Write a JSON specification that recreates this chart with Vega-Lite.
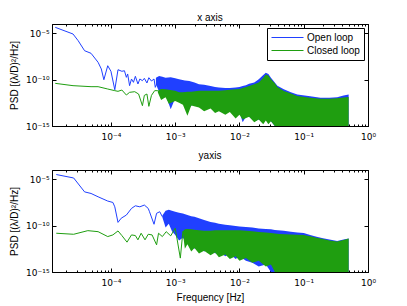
{
  "$schema": "https://vega.github.io/schema/vega-lite/v6.json",
  "background": "white",
  "padding": {"left": 9, "top": 12, "right": 5, "bottom": 2},
  "config": {
    "font": "Liberation Sans",
    "view": {"stroke": "black", "strokeWidth": 1},
    "axis": {"grid": false, "domainColor": "black", "domainWidth": 1, "tickColor": "black", "tickWidth": 1, "labelColor": "black", "titleColor": "black", "labelFont": "DejaVu Sans", "titleFont": "Liberation Sans", "labelFontSize": 9, "titleFontSize": 10, "titleFontWeight": "normal", "labelFlush": false, "labelOverlap": false},
    "title": {"fontSize": 10, "fontWeight": "normal", "font": "Liberation Sans", "offset": 1, "anchor": "middle", "color": "black"},
    "legend": {"strokeColor": "black", "fillColor": "white", "padding": 4, "cornerRadius": 0, "symbolType": "M-1,0H5.4", "symbolSize": 100, "symbolStrokeWidth": 1, "labelFont": "Liberation Sans", "labelFontSize": 10, "labelColor": "black", "labelOffset": 25, "rowPadding": 2},
    "concat": {"spacing": 6}
  },
  "datasets": {
    "xOL": [
      {"series": "Open loop", "freq": 1.36e-5, "psd": 4.37e-5},
      {"series": "Open loop", "freq": 2.57e-5, "psd": 8.32e-6},
      {"series": "Open loop", "freq": 3.09e-5, "psd": 1.585e-6},
      {"series": "Open loop", "freq": 3.89e-5, "psd": 1.318e-7},
      {"series": "Open loop", "freq": 4.90e-5, "psd": 6.92e-8},
      {"series": "Open loop", "freq": 6.31e-5, "psd": 7.41e-9},
      {"series": "Open loop", "freq": 7.08e-5, "psd": 1.41e-9},
      {"series": "Open loop", "freq": 7.76e-5, "psd": 9.77e-11},
      {"series": "Open loop", "freq": 8.91e-5, "psd": 3.16e-9},
      {"series": "Open loop", "freq": 1.0e-4, "psd": 7.94e-10},
      {"series": "Open loop", "freq": 1.148e-4, "psd": 8.13e-12},
      {"series": "Open loop", "freq": 1.288e-4, "psd": 1.175e-9},
      {"series": "Open loop", "freq": 1.479e-4, "psd": 7.94e-10},
      {"series": "Open loop", "freq": 1.622e-4, "psd": 9.12e-10},
      {"series": "Open loop", "freq": 1.738e-4, "psd": 1.778e-10},
      {"series": "Open loop", "freq": 1.820e-4, "psd": 4.07e-10},
      {"series": "Open loop", "freq": 1.950e-4, "psd": 2.24e-11},
      {"series": "Open loop", "freq": 2.089e-4, "psd": 1.175e-10},
      {"series": "Open loop", "freq": 2.239e-4, "psd": 5.13e-11},
      {"series": "Open loop", "freq": 2.399e-4, "psd": 2.29e-10},
      {"series": "Open loop", "freq": 2.63e-4, "psd": 3.39e-11},
      {"series": "Open loop", "freq": 2.818e-4, "psd": 1.175e-10},
      {"series": "Open loop", "freq": 3.09e-4, "psd": 7.76e-11},
      {"series": "Open loop", "freq": 3.31e-4, "psd": 1.38e-10},
      {"series": "Open loop", "freq": 3.63e-4, "psd": 4.37e-11},
      {"series": "Open loop", "freq": 3.89e-4, "psd": 1.62e-10},
      {"series": "Open loop", "freq": 4.27e-4, "psd": 7.08e-11},
      {"series": "Open loop", "freq": 4.68e-4, "psd": 1.175e-10},
      {"series": "Open loop", "freq": 4.90e-4, "psd": 1.48e-11},
      {"series": "Open loop", "freq": 5.37e-4, "psd": 7.76e-11}
    ],
    "xCL": [
      {"series": "Closed loop", "freq": 1.36e-5, "psd": 3.98e-11},
      {"series": "Closed loop", "freq": 2.57e-5, "psd": 2.24e-11},
      {"series": "Closed loop", "freq": 4.90e-5, "psd": 1.738e-11},
      {"series": "Closed loop", "freq": 6.31e-5, "psd": 1.738e-11},
      {"series": "Closed loop", "freq": 8.91e-5, "psd": 9.77e-12},
      {"series": "Closed loop", "freq": 1.148e-4, "psd": 6.46e-12},
      {"series": "Closed loop", "freq": 1.288e-4, "psd": 5.50e-12},
      {"series": "Closed loop", "freq": 1.479e-4, "psd": 7.59e-12},
      {"series": "Closed loop", "freq": 1.738e-4, "psd": 2.19e-12},
      {"series": "Closed loop", "freq": 1.950e-4, "psd": 4.27e-12},
      {"series": "Closed loop", "freq": 2.344e-4, "psd": 5.01e-12},
      {"series": "Closed loop", "freq": 2.692e-4, "psd": 2.82e-12},
      {"series": "Closed loop", "freq": 3.09e-4, "psd": 1.55e-13},
      {"series": "Closed loop", "freq": 3.31e-4, "psd": 2.0e-12},
      {"series": "Closed loop", "freq": 3.63e-4, "psd": 2.82e-12},
      {"series": "Closed loop", "freq": 3.89e-4, "psd": 1.32e-13},
      {"series": "Closed loop", "freq": 4.27e-4, "psd": 2.0e-12},
      {"series": "Closed loop", "freq": 4.79e-4, "psd": 6.46e-12},
      {"series": "Closed loop", "freq": 5.37e-4, "psd": 6.46e-12}
    ],
    "xOB": [
      {"series": "Open loop", "freq": 5.01e-4, "hi": 1.585e-10, "lo": 3.16e-11},
      {"series": "Open loop", "freq": 5.62e-4, "hi": 2.51e-10, "lo": 5.01e-12},
      {"series": "Open loop", "freq": 6.31e-4, "hi": 2.0e-10, "lo": 1e-12},
      {"series": "Open loop", "freq": 7.08e-4, "hi": 1.585e-10, "lo": 2.51e-12},
      {"series": "Open loop", "freq": 8.51e-4, "hi": 1.78e-10, "lo": 6.31e-14},
      {"series": "Open loop", "freq": 1.0e-3, "hi": 1.41e-10, "lo": 1e-12},
      {"series": "Open loop", "freq": 1.148e-3, "hi": 1.12e-10, "lo": 3.98e-13},
      {"series": "Open loop", "freq": 1.413e-3, "hi": 7.94e-11, "lo": 6.31e-13},
      {"series": "Open loop", "freq": 1.660e-3, "hi": 7.08e-11, "lo": 1e-13},
      {"series": "Open loop", "freq": 1.995e-3, "hi": 5.01e-11, "lo": 3.16e-13},
      {"series": "Open loop", "freq": 2.344e-3, "hi": 3.16e-11, "lo": 2.51e-13},
      {"series": "Open loop", "freq": 2.818e-3, "hi": 2.82e-11, "lo": 6.31e-14},
      {"series": "Open loop", "freq": 3.548e-3, "hi": 2.0e-11, "lo": 1.585e-13},
      {"series": "Open loop", "freq": 4.169e-3, "hi": 1.585e-11, "lo": 5.01e-14},
      {"series": "Open loop", "freq": 4.786e-3, "hi": 1.41e-11, "lo": 1e-13},
      {"series": "Open loop", "freq": 6.026e-3, "hi": 1.26e-11, "lo": 3.98e-14},
      {"series": "Open loop", "freq": 7.079e-3, "hi": 1.26e-11, "lo": 6.31e-14},
      {"series": "Open loop", "freq": 8.710e-3, "hi": 1.41e-11, "lo": 1.26e-14},
      {"series": "Open loop", "freq": 1.0e-2, "hi": 1.585e-11, "lo": 3.16e-14},
      {"series": "Open loop", "freq": 1.122e-2, "hi": 2.0e-11, "lo": 2.51e-15},
      {"series": "Open loop", "freq": 1.259e-2, "hi": 2.51e-11, "lo": 1e-14},
      {"series": "Open loop", "freq": 1.413e-2, "hi": 3.55e-11, "lo": 1e-14},
      {"series": "Open loop", "freq": 1.698e-2, "hi": 5.01e-11, "lo": 3.16e-15},
      {"series": "Open loop", "freq": 1.995e-2, "hi": 1.12e-10, "lo": 5.01e-15},
      {"series": "Open loop", "freq": 2.344e-2, "hi": 3.16e-10, "lo": 1e-14},
      {"series": "Open loop", "freq": 2.570e-2, "hi": 5.62e-10, "lo": 1e-14},
      {"series": "Open loop", "freq": 2.818e-2, "hi": 3.98e-10, "lo": 3.16e-15},
      {"series": "Open loop", "freq": 3.090e-2, "hi": 1.585e-10, "lo": 3.16e-15},
      {"series": "Open loop", "freq": 3.548e-2, "hi": 5.01e-11, "lo": 1e-15},
      {"series": "Open loop", "freq": 3.890e-2, "hi": 2.24e-11, "lo": 1e-16},
      {"series": "Open loop", "freq": 4.898e-2, "hi": 8.91e-12, "lo": 1e-16},
      {"series": "Open loop", "freq": 6.310e-2, "hi": 4.47e-12, "lo": 1e-16},
      {"series": "Open loop", "freq": 7.943e-2, "hi": 2.51e-12, "lo": 1e-16},
      {"series": "Open loop", "freq": 0.1259, "hi": 1.585e-12, "lo": 1e-16},
      {"series": "Open loop", "freq": 0.1820, "hi": 1.12e-12, "lo": 1e-16},
      {"series": "Open loop", "freq": 0.2512, "hi": 1.12e-12, "lo": 1e-16},
      {"series": "Open loop", "freq": 0.3311, "hi": 1.26e-12, "lo": 1e-16},
      {"series": "Open loop", "freq": 0.4169, "hi": 2.0e-12, "lo": 1e-16},
      {"series": "Open loop", "freq": 0.5, "hi": 2.51e-12, "lo": 1e-16}
    ],
    "xCB": [
      {"series": "Closed loop", "freq": 5.37e-4, "hi": 6.46e-12, "lo": 3.98e-12},
      {"series": "Closed loop", "freq": 6.03e-4, "hi": 1e-11, "lo": 6.31e-13},
      {"series": "Closed loop", "freq": 7.08e-4, "hi": 8.91e-12, "lo": 1.26e-12},
      {"series": "Closed loop", "freq": 7.94e-4, "hi": 7.94e-12, "lo": 2.51e-13},
      {"series": "Closed loop", "freq": 1.0e-3, "hi": 6.31e-12, "lo": 5.01e-13},
      {"series": "Closed loop", "freq": 1.148e-3, "hi": 4.47e-12, "lo": 3.16e-13},
      {"series": "Closed loop", "freq": 1.318e-3, "hi": 4.47e-12, "lo": 2.0e-13},
      {"series": "Closed loop", "freq": 1.549e-3, "hi": 5.01e-12, "lo": 1.26e-14},
      {"series": "Closed loop", "freq": 1.778e-3, "hi": 5.01e-12, "lo": 1.585e-13},
      {"series": "Closed loop", "freq": 2.344e-3, "hi": 6.31e-12, "lo": 1e-13},
      {"series": "Closed loop", "freq": 2.818e-3, "hi": 6.31e-12, "lo": 3.98e-14},
      {"series": "Closed loop", "freq": 3.548e-3, "hi": 6.31e-12, "lo": 7.94e-14},
      {"series": "Closed loop", "freq": 4.169e-3, "hi": 6.31e-12, "lo": 2.51e-14},
      {"series": "Closed loop", "freq": 4.786e-3, "hi": 6.31e-12, "lo": 3.98e-14},
      {"series": "Closed loop", "freq": 6.026e-3, "hi": 7.08e-12, "lo": 1.585e-14},
      {"series": "Closed loop", "freq": 7.079e-3, "hi": 7.94e-12, "lo": 3.16e-14},
      {"series": "Closed loop", "freq": 8.710e-3, "hi": 8.91e-12, "lo": 6.31e-15},
      {"series": "Closed loop", "freq": 1.0e-2, "hi": 1e-11, "lo": 1.585e-14},
      {"series": "Closed loop", "freq": 1.122e-2, "hi": 1.26e-11, "lo": 5.01e-15},
      {"series": "Closed loop", "freq": 1.413e-2, "hi": 2.0e-11, "lo": 1e-14},
      {"series": "Closed loop", "freq": 1.698e-2, "hi": 3.16e-11, "lo": 2.51e-15},
      {"series": "Closed loop", "freq": 1.995e-2, "hi": 5.01e-11, "lo": 5.01e-15},
      {"series": "Closed loop", "freq": 2.344e-2, "hi": 1.585e-10, "lo": 1.585e-15},
      {"series": "Closed loop", "freq": 2.570e-2, "hi": 3.55e-10, "lo": 3.98e-15},
      {"series": "Closed loop", "freq": 2.818e-2, "hi": 2.82e-10, "lo": 1.585e-15},
      {"series": "Closed loop", "freq": 3.090e-2, "hi": 1.12e-10, "lo": 3.16e-15},
      {"series": "Closed loop", "freq": 3.548e-2, "hi": 3.98e-11, "lo": 1e-15},
      {"series": "Closed loop", "freq": 3.890e-2, "hi": 1.585e-11, "lo": 6.31e-16},
      {"series": "Closed loop", "freq": 4.571e-2, "hi": 7.94e-12, "lo": 1e-16},
      {"series": "Closed loop", "freq": 4.898e-2, "hi": 6.03e-12, "lo": 1e-16},
      {"series": "Closed loop", "freq": 6.310e-2, "hi": 3.16e-12, "lo": 1e-16},
      {"series": "Closed loop", "freq": 7.943e-2, "hi": 1.70e-12, "lo": 1e-16},
      {"series": "Closed loop", "freq": 0.1259, "hi": 1.12e-12, "lo": 1e-16},
      {"series": "Closed loop", "freq": 0.1820, "hi": 8.71e-13, "lo": 1e-16},
      {"series": "Closed loop", "freq": 0.2512, "hi": 8.91e-13, "lo": 1e-16},
      {"series": "Closed loop", "freq": 0.3311, "hi": 1e-12, "lo": 1e-16},
      {"series": "Closed loop", "freq": 0.4169, "hi": 1.20e-12, "lo": 1e-16},
      {"series": "Closed loop", "freq": 0.5, "hi": 1.32e-12, "lo": 1e-16}
    ],
    "yOL": [
      {"series": "Open loop", "freq": 1.41e-5, "psd": 3.24e-5},
      {"series": "Open loop", "freq": 2.63e-5, "psd": 1.38e-5},
      {"series": "Open loop", "freq": 3.89e-5, "psd": 4.37e-7},
      {"series": "Open loop", "freq": 4.90e-5, "psd": 2.95e-7},
      {"series": "Open loop", "freq": 6.31e-5, "psd": 1.29e-7},
      {"series": "Open loop", "freq": 8.91e-5, "psd": 4.47e-8},
      {"series": "Open loop", "freq": 1.072e-4, "psd": 3.16e-8},
      {"series": "Open loop", "freq": 1.148e-4, "psd": 1.07e-8},
      {"series": "Open loop", "freq": 1.288e-4, "psd": 2.24e-10},
      {"series": "Open loop", "freq": 1.445e-4, "psd": 6.31e-10},
      {"series": "Open loop", "freq": 1.738e-4, "psd": 1.38e-9},
      {"series": "Open loop", "freq": 2.089e-4, "psd": 7.24e-9},
      {"series": "Open loop", "freq": 2.399e-4, "psd": 1.38e-8},
      {"series": "Open loop", "freq": 2.818e-4, "psd": 1.07e-8},
      {"series": "Open loop", "freq": 3.311e-4, "psd": 1.66e-8},
      {"series": "Open loop", "freq": 3.802e-4, "psd": 7.24e-9},
      {"series": "Open loop", "freq": 3.981e-4, "psd": 3.16e-9},
      {"series": "Open loop", "freq": 4.68e-4, "psd": 1.41e-10},
      {"series": "Open loop", "freq": 5.13e-4, "psd": 2.14e-9},
      {"series": "Open loop", "freq": 5.75e-4, "psd": 3.16e-9},
      {"series": "Open loop", "freq": 6.31e-4, "psd": 9.12e-10}
    ],
    "yCL": [
      {"series": "Closed loop", "freq": 1.41e-5, "psd": 1.51e-11},
      {"series": "Closed loop", "freq": 2.63e-5, "psd": 1.17e-11},
      {"series": "Closed loop", "freq": 4.37e-5, "psd": 2.88e-11},
      {"series": "Closed loop", "freq": 6.31e-5, "psd": 2.24e-11},
      {"series": "Closed loop", "freq": 8.91e-5, "psd": 6.61e-12},
      {"series": "Closed loop", "freq": 1.072e-4, "psd": 1e-11},
      {"series": "Closed loop", "freq": 1.288e-4, "psd": 2.69e-11},
      {"series": "Closed loop", "freq": 1.479e-4, "psd": 8.51e-12},
      {"series": "Closed loop", "freq": 1.778e-4, "psd": 1.66e-12},
      {"series": "Closed loop", "freq": 2.089e-4, "psd": 1e-11},
      {"series": "Closed loop", "freq": 2.399e-4, "psd": 8.51e-12},
      {"series": "Closed loop", "freq": 2.63e-4, "psd": 2.95e-12},
      {"series": "Closed loop", "freq": 2.951e-4, "psd": 1.51e-11},
      {"series": "Closed loop", "freq": 3.388e-4, "psd": 2.95e-12},
      {"series": "Closed loop", "freq": 3.802e-4, "psd": 1.17e-11},
      {"series": "Closed loop", "freq": 4.365e-4, "psd": 1e-11},
      {"series": "Closed loop", "freq": 5.13e-4, "psd": 8.51e-13},
      {"series": "Closed loop", "freq": 5.50e-4, "psd": 1.51e-11},
      {"series": "Closed loop", "freq": 6.31e-4, "psd": 6.61e-12},
      {"series": "Closed loop", "freq": 7.24e-4, "psd": 2.24e-11},
      {"series": "Closed loop", "freq": 8.51e-4, "psd": 7.94e-12},
      {"series": "Closed loop", "freq": 1.0e-3, "psd": 5.25e-11},
      {"series": "Closed loop", "freq": 1.202e-3, "psd": 3.16e-14},
      {"series": "Closed loop", "freq": 1.318e-3, "psd": 2.51e-11}
    ],
    "yOB": [
      {"series": "Open loop", "freq": 6.31e-4, "hi": 1.26e-9, "lo": 7.94e-10},
      {"series": "Open loop", "freq": 7.08e-4, "hi": 3.98e-9, "lo": 6.31e-11},
      {"series": "Open loop", "freq": 7.94e-4, "hi": 5.01e-9, "lo": 1.585e-10},
      {"series": "Open loop", "freq": 8.91e-4, "hi": 3.98e-9, "lo": 2.51e-11},
      {"series": "Open loop", "freq": 1.0e-3, "hi": 3.16e-9, "lo": 1e-11},
      {"series": "Open loop", "freq": 1.148e-3, "hi": 2.51e-9, "lo": 2.51e-12},
      {"series": "Open loop", "freq": 1.318e-3, "hi": 2.0e-9, "lo": 5.01e-12},
      {"series": "Open loop", "freq": 1.549e-3, "hi": 1.41e-9, "lo": 1e-12},
      {"series": "Open loop", "freq": 1.778e-3, "hi": 1e-9, "lo": 1.585e-12},
      {"series": "Open loop", "freq": 1.995e-3, "hi": 8.91e-10, "lo": 3.16e-13},
      {"series": "Open loop", "freq": 2.344e-3, "hi": 6.31e-10, "lo": 6.31e-13},
      {"series": "Open loop", "freq": 2.818e-3, "hi": 3.98e-10, "lo": 1.585e-13},
      {"series": "Open loop", "freq": 3.548e-3, "hi": 2.51e-10, "lo": 3.16e-13},
      {"series": "Open loop", "freq": 4.169e-3, "hi": 2.0e-10, "lo": 1e-13},
      {"series": "Open loop", "freq": 4.786e-3, "hi": 1.585e-10, "lo": 1.585e-13},
      {"series": "Open loop", "freq": 6.026e-3, "hi": 1.26e-10, "lo": 5.01e-14},
      {"series": "Open loop", "freq": 7.079e-3, "hi": 1.12e-10, "lo": 1e-13},
      {"series": "Open loop", "freq": 8.710e-3, "hi": 8.91e-11, "lo": 2.51e-14},
      {"series": "Open loop", "freq": 1.0e-2, "hi": 7.94e-11, "lo": 5.01e-14},
      {"series": "Open loop", "freq": 1.259e-2, "hi": 7.08e-11, "lo": 1.585e-14},
      {"series": "Open loop", "freq": 1.585e-2, "hi": 6.31e-11, "lo": 1e-14},
      {"series": "Open loop", "freq": 1.995e-2, "hi": 5.01e-11, "lo": 3.98e-15},
      {"series": "Open loop", "freq": 2.570e-2, "hi": 4.47e-11, "lo": 6.31e-15},
      {"series": "Open loop", "freq": 3.090e-2, "hi": 3.98e-11, "lo": 1e-15},
      {"series": "Open loop", "freq": 3.548e-2, "hi": 3.47e-11, "lo": 1e-16},
      {"series": "Open loop", "freq": 4.898e-2, "hi": 2.82e-11, "lo": 1e-16},
      {"series": "Open loop", "freq": 6.310e-2, "hi": 2.24e-11, "lo": 1e-16},
      {"series": "Open loop", "freq": 7.943e-2, "hi": 1.78e-11, "lo": 1e-16},
      {"series": "Open loop", "freq": 0.1, "hi": 1.585e-11, "lo": 1e-16},
      {"series": "Open loop", "freq": 0.1259, "hi": 1e-11, "lo": 1e-16},
      {"series": "Open loop", "freq": 0.1585, "hi": 6.31e-12, "lo": 1e-16},
      {"series": "Open loop", "freq": 0.1995, "hi": 4.47e-12, "lo": 1e-16},
      {"series": "Open loop", "freq": 0.2512, "hi": 3.16e-12, "lo": 1e-16},
      {"series": "Open loop", "freq": 0.3311, "hi": 2.24e-12, "lo": 1e-16},
      {"series": "Open loop", "freq": 0.4169, "hi": 3.16e-12, "lo": 1e-16},
      {"series": "Open loop", "freq": 0.5, "hi": 3.98e-12, "lo": 1e-16}
    ],
    "yCB": [
      {"series": "Closed loop", "freq": 1.318e-3, "hi": 2.51e-11, "lo": 1.585e-11},
      {"series": "Closed loop", "freq": 1.413e-3, "hi": 3.98e-11, "lo": 3.16e-13},
      {"series": "Closed loop", "freq": 1.549e-3, "hi": 4.47e-11, "lo": 1e-12},
      {"series": "Closed loop", "freq": 1.778e-3, "hi": 3.98e-11, "lo": 1.585e-13},
      {"series": "Closed loop", "freq": 1.995e-3, "hi": 3.55e-11, "lo": 3.98e-13},
      {"series": "Closed loop", "freq": 2.344e-3, "hi": 3.16e-11, "lo": 1e-13},
      {"series": "Closed loop", "freq": 2.818e-3, "hi": 2.82e-11, "lo": 2.0e-13},
      {"series": "Closed loop", "freq": 3.548e-3, "hi": 2.82e-11, "lo": 6.31e-14},
      {"series": "Closed loop", "freq": 4.169e-3, "hi": 3.16e-11, "lo": 1.26e-13},
      {"series": "Closed loop", "freq": 4.786e-3, "hi": 3.16e-11, "lo": 3.98e-14},
      {"series": "Closed loop", "freq": 6.026e-3, "hi": 3.16e-11, "lo": 7.94e-14},
      {"series": "Closed loop", "freq": 7.079e-3, "hi": 3.16e-11, "lo": 2.51e-14},
      {"series": "Closed loop", "freq": 8.710e-3, "hi": 3.16e-11, "lo": 5.01e-14},
      {"series": "Closed loop", "freq": 1.0e-2, "hi": 3.16e-11, "lo": 1.585e-14},
      {"series": "Closed loop", "freq": 1.259e-2, "hi": 2.82e-11, "lo": 3.16e-14},
      {"series": "Closed loop", "freq": 1.585e-2, "hi": 2.51e-11, "lo": 1e-14},
      {"series": "Closed loop", "freq": 1.995e-2, "hi": 2.0e-11, "lo": 1.585e-14},
      {"series": "Closed loop", "freq": 2.570e-2, "hi": 1.78e-11, "lo": 3.98e-15},
      {"series": "Closed loop", "freq": 3.090e-2, "hi": 1.585e-11, "lo": 6.31e-15},
      {"series": "Closed loop", "freq": 3.548e-2, "hi": 1.41e-11, "lo": 1e-15},
      {"series": "Closed loop", "freq": 4.169e-2, "hi": 1.26e-11, "lo": 1e-16},
      {"series": "Closed loop", "freq": 6.310e-2, "hi": 1.12e-11, "lo": 1e-16},
      {"series": "Closed loop", "freq": 0.1, "hi": 1e-11, "lo": 1e-16},
      {"series": "Closed loop", "freq": 0.1259, "hi": 7.08e-12, "lo": 1e-16},
      {"series": "Closed loop", "freq": 0.1585, "hi": 5.01e-12, "lo": 1e-16},
      {"series": "Closed loop", "freq": 0.1995, "hi": 3.55e-12, "lo": 1e-16},
      {"series": "Closed loop", "freq": 0.2512, "hi": 2.51e-12, "lo": 1e-16},
      {"series": "Closed loop", "freq": 0.3311, "hi": 2.0e-12, "lo": 1e-16},
      {"series": "Closed loop", "freq": 0.4169, "hi": 2.82e-12, "lo": 1e-16},
      {"series": "Closed loop", "freq": 0.5, "hi": 3.98e-12, "lo": 1e-16}
    ]
  },
  "vconcat": [
    {
      "title": {"text": "x axis", "offset": 1},
      "width": 316,
      "height": 102,
      "resolve": {"axis": {"x": "independent", "y": "independent"}},
      "layer": [
        {
          "data": {"name": "xOL"},
          "mark": {"type": "line", "strokeWidth": 1, "clip": true},
          "encoding": {
            "x": {"field": "freq", "type": "quantitative", "scale": {"type": "log", "domain": [1.21e-5, 1], "nice": false},
              "axis": {"orient": "bottom", "title": null, "values": [2e-5,3e-5,4e-5,5e-5,6e-5,7e-5,8e-5,9e-5,1e-4,2e-4,3e-4,4e-4,5e-4,6e-4,7e-4,8e-4,9e-4,1e-3,2e-3,3e-3,4e-3,5e-3,6e-3,7e-3,8e-3,9e-3,1e-2,2e-2,3e-2,4e-2,5e-2,6e-2,7e-2,8e-2,9e-2,0.1,0.2,0.3,0.4,0.5,0.6,0.7,0.8,0.9,1],
                "labelExpr": "abs(log(datum.value)/LN10-round(log(datum.value)/LN10))>1e-6 ? '' : ['10⁰','10⁻¹','10⁻²','10⁻³','10⁻⁴'][-round(log(datum.value)/LN10)]",
                "tickSize": {"condition": {"test": "abs(log(datum.value)/LN10-round(log(datum.value)/LN10))<1e-6", "value": -4}, "value": -2},
                "labelPadding": 10}},
            "y": {"field": "psd", "type": "quantitative", "scale": {"type": "log", "domain": [1e-15, 1e-4], "nice": false},
              "axis": {"orient": "left", "title": "PSD [(λ/D)²/Hz]", "values": [1e-15, 1e-10, 1e-5], "labelExpr": "datum.value < 1e-12 ? '10⁻¹⁵' : datum.value < 1e-7 ? '10⁻¹⁰' : '10⁻⁵'", "tickSize": -4, "labelPadding": 7, "titlePadding": 6}},
            "color": {"field": "series", "type": "nominal", "scale": {"domain": ["Open loop", "Closed loop"], "range": ["#2040ff", "#1f9e10"]}, "legend": {"title": null, "orient": "top-right", "offset": 4}}
          }
        },
        {
          "data": {"name": "xOB"},
          "mark": {"type": "area", "clip": true},
          "encoding": {
            "x": {"field": "freq", "type": "quantitative", "scale": {"type": "log", "domain": [1.21e-5, 1], "nice": false},
              "axis": {"orient": "top", "title": null, "labels": false, "values": [2e-5,3e-5,4e-5,5e-5,6e-5,7e-5,8e-5,9e-5,1e-4,2e-4,3e-4,4e-4,5e-4,6e-4,7e-4,8e-4,9e-4,1e-3,2e-3,3e-3,4e-3,5e-3,6e-3,7e-3,8e-3,9e-3,1e-2,2e-2,3e-2,4e-2,5e-2,6e-2,7e-2,8e-2,9e-2,0.1,0.2,0.3,0.4,0.5,0.6,0.7,0.8,0.9,1],
                "tickSize": {"condition": {"test": "abs(log(datum.value)/LN10-round(log(datum.value)/LN10))<1e-6", "value": -4}, "value": -2}}},
            "y": {"field": "hi", "type": "quantitative", "scale": {"type": "log", "domain": [1e-15, 1e-4], "nice": false},
              "axis": {"orient": "right", "title": null, "labels": false, "values": [1e-15, 1e-10, 1e-5], "tickSize": -4}},
            "y2": {"field": "lo"},
            "color": {"field": "series", "type": "nominal", "scale": {"domain": ["Open loop", "Closed loop"], "range": ["#2040ff", "#1f9e10"]}, "legend": {"title": null, "orient": "top-right", "offset": 4}}
          }
        },
        {
          "data": {"name": "xCL"},
          "mark": {"type": "line", "strokeWidth": 1, "clip": true},
          "encoding": {
            "x": {"field": "freq", "type": "quantitative", "scale": {"type": "log", "domain": [1.21e-5, 1], "nice": false}, "axis": null},
            "y": {"field": "psd", "type": "quantitative", "scale": {"type": "log", "domain": [1e-15, 1e-4], "nice": false}, "axis": null},
            "color": {"field": "series", "type": "nominal", "scale": {"domain": ["Open loop", "Closed loop"], "range": ["#2040ff", "#1f9e10"]}, "legend": {"title": null, "orient": "top-right", "offset": 4}}
          }
        },
        {
          "data": {"name": "xCB"},
          "mark": {"type": "area", "clip": true},
          "encoding": {
            "x": {"field": "freq", "type": "quantitative", "scale": {"type": "log", "domain": [1.21e-5, 1], "nice": false}, "axis": null},
            "y": {"field": "hi", "type": "quantitative", "scale": {"type": "log", "domain": [1e-15, 1e-4], "nice": false}, "axis": null},
            "y2": {"field": "lo"},
            "color": {"field": "series", "type": "nominal", "scale": {"domain": ["Open loop", "Closed loop"], "range": ["#2040ff", "#1f9e10"]}, "legend": {"title": null, "orient": "top-right", "offset": 4}}
          }
        }
      ]
    },
    {
      "title": {"text": "yaxis", "offset": 9},
      "width": 316,
      "height": 102,
      "resolve": {"axis": {"x": "independent", "y": "independent"}},
      "layer": [
        {
          "data": {"name": "yOL"},
          "mark": {"type": "line", "strokeWidth": 1, "clip": true},
          "encoding": {
            "x": {"field": "freq", "type": "quantitative", "scale": {"type": "log", "domain": [1.21e-5, 1], "nice": false},
              "axis": {"orient": "bottom", "title": "Frequency [Hz]", "titlePadding": 3, "values": [2e-5,3e-5,4e-5,5e-5,6e-5,7e-5,8e-5,9e-5,1e-4,2e-4,3e-4,4e-4,5e-4,6e-4,7e-4,8e-4,9e-4,1e-3,2e-3,3e-3,4e-3,5e-3,6e-3,7e-3,8e-3,9e-3,1e-2,2e-2,3e-2,4e-2,5e-2,6e-2,7e-2,8e-2,9e-2,0.1,0.2,0.3,0.4,0.5,0.6,0.7,0.8,0.9,1],
                "labelExpr": "abs(log(datum.value)/LN10-round(log(datum.value)/LN10))>1e-6 ? '' : ['10⁰','10⁻¹','10⁻²','10⁻³','10⁻⁴'][-round(log(datum.value)/LN10)]",
                "tickSize": {"condition": {"test": "abs(log(datum.value)/LN10-round(log(datum.value)/LN10))<1e-6", "value": -4}, "value": -2},
                "labelPadding": 10}},
            "y": {"field": "psd", "type": "quantitative", "scale": {"type": "log", "domain": [1e-15, 1e-4], "nice": false},
              "axis": {"orient": "left", "title": "PSD [(λ/D)²/Hz]", "values": [1e-15, 1e-10, 1e-5], "labelExpr": "datum.value < 1e-12 ? '10⁻¹⁵' : datum.value < 1e-7 ? '10⁻¹⁰' : '10⁻⁵'", "tickSize": -4, "labelPadding": 7, "titlePadding": 6}},
            "color": {"field": "series", "type": "nominal", "scale": {"domain": ["Open loop", "Closed loop"], "range": ["#2040ff", "#1f9e10"]}, "legend": null}
          }
        },
        {
          "data": {"name": "yOB"},
          "mark": {"type": "area", "clip": true},
          "encoding": {
            "x": {"field": "freq", "type": "quantitative", "scale": {"type": "log", "domain": [1.21e-5, 1], "nice": false},
              "axis": {"orient": "top", "title": null, "labels": false, "values": [2e-5,3e-5,4e-5,5e-5,6e-5,7e-5,8e-5,9e-5,1e-4,2e-4,3e-4,4e-4,5e-4,6e-4,7e-4,8e-4,9e-4,1e-3,2e-3,3e-3,4e-3,5e-3,6e-3,7e-3,8e-3,9e-3,1e-2,2e-2,3e-2,4e-2,5e-2,6e-2,7e-2,8e-2,9e-2,0.1,0.2,0.3,0.4,0.5,0.6,0.7,0.8,0.9,1],
                "tickSize": {"condition": {"test": "abs(log(datum.value)/LN10-round(log(datum.value)/LN10))<1e-6", "value": -4}, "value": -2}}},
            "y": {"field": "hi", "type": "quantitative", "scale": {"type": "log", "domain": [1e-15, 1e-4], "nice": false},
              "axis": {"orient": "right", "title": null, "labels": false, "values": [1e-15, 1e-10, 1e-5], "tickSize": -4}},
            "y2": {"field": "lo"},
            "color": {"field": "series", "type": "nominal", "scale": {"domain": ["Open loop", "Closed loop"], "range": ["#2040ff", "#1f9e10"]}, "legend": null}
          }
        },
        {
          "data": {"name": "yCL"},
          "mark": {"type": "line", "strokeWidth": 1, "clip": true},
          "encoding": {
            "x": {"field": "freq", "type": "quantitative", "scale": {"type": "log", "domain": [1.21e-5, 1], "nice": false}, "axis": null},
            "y": {"field": "psd", "type": "quantitative", "scale": {"type": "log", "domain": [1e-15, 1e-4], "nice": false}, "axis": null},
            "color": {"field": "series", "type": "nominal", "scale": {"domain": ["Open loop", "Closed loop"], "range": ["#2040ff", "#1f9e10"]}, "legend": null}
          }
        },
        {
          "data": {"name": "yCB"},
          "mark": {"type": "area", "clip": true},
          "encoding": {
            "x": {"field": "freq", "type": "quantitative", "scale": {"type": "log", "domain": [1.21e-5, 1], "nice": false}, "axis": null},
            "y": {"field": "hi", "type": "quantitative", "scale": {"type": "log", "domain": [1e-15, 1e-4], "nice": false}, "axis": null},
            "y2": {"field": "lo"},
            "color": {"field": "series", "type": "nominal", "scale": {"domain": ["Open loop", "Closed loop"], "range": ["#2040ff", "#1f9e10"]}, "legend": null}
          }
        }
      ]
    }
  ],
  "resolve": {"legend": {"color": "independent"}}
}
